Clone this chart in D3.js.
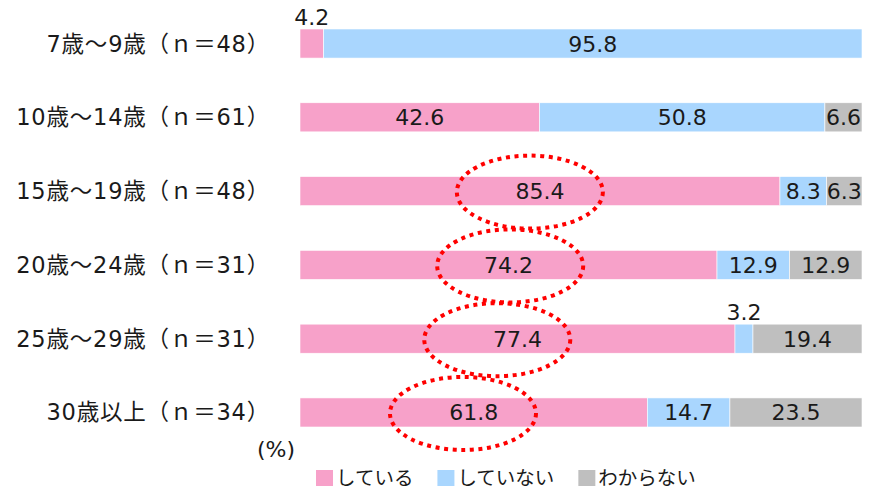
<!DOCTYPE html>
<html lang="ja">
<head>
<meta charset="utf-8">
<script src="https://d3js.org/d3.v7.min.js"></script>
<style>
  body { margin: 0; background: #fff; }
  text { font-family: "DejaVu Sans", "Noto Sans CJK JP", sans-serif; fill: #1a1a1a; }
</style>
</head>
<body>
<script>
// data
var categories = ["7歳～9歳（ｎ＝48）", "10歳～14歳（ｎ＝61）", "15歳～19歳（ｎ＝48）",
                  "20歳～24歳（ｎ＝31）", "25歳～29歳（ｎ＝31）", "30歳以上（ｎ＝34）"];
var seriesNames = ["している", "していない", "わからない"];
var doing    = [4.2, 42.6, 85.4, 74.2, 77.4, 61.8];
var notDoing = [95.8, 50.8, 8.3, 12.9, 3.2, 14.7];
var unknown  = [0, 6.6, 6.3, 12.9, 19.4, 23.5];
var colors = ["#f7a1c9", "#a9d6fe", "#bfbfbf"];
// highlighted rows (dotted ellipses), centre given as a value on the % axis
var highlightRows = [2, 3, 4, 5];
var highlightAt   = [40.9, 37.4, 35.1, 29.0];

var width = 873, height = 492;

var svg = d3.select("body").append("svg")
    .attr("width", width)
    .attr("height", height);

var x = d3.scaleLinear().domain([0, 100]).range([300, 862]);
var y = d3.scaleBand().domain(categories).range([29, 427])
    .paddingInner(0.606).paddingOuter(0);

var rows = categories.map(function(c, i) {
    return { cat: c, vals: [doing[i], notDoing[i], unknown[i]] };
});
var stack = d3.stack().keys([0, 1, 2]).value(function(d, k) { return d.vals[k]; });
var layers = stack(rows);

// bars
var layer = svg.selectAll(".layer")
    .data(layers)
    .enter().append("g")
    .attr("class", "layer")
    .attr("fill", function(d) { return colors[d.key]; });

layer.selectAll("rect")
    .data(function(d) { return d; })
    .enter().filter(function(d) { return d[1] > d[0]; })
    .append("rect")
    .attr("x", function(d) { return x(d[0]); })
    .attr("y", function(d) { return y(d.data.cat); })
    .attr("width", function(d) { return x(d[1]) - x(d[0]); })
    .attr("height", y.bandwidth())
    .attr("stroke", "#fff")
    .attr("stroke-width", 0.6);

// value labels (small slices go above the bar)
layer.selectAll("text")
    .data(function(d) { return d; })
    .enter().filter(function(d) { return d[1] > d[0]; })
    .append("text")
    .attr("x", function(d) { return x((d[0] + d[1]) / 2); })
    .attr("y", function(d) {
        var v = d[1] - d[0];
        return v < 5 ? y(d.data.cat) - 4 : y(d.data.cat) + y.bandwidth() / 2 + 8;
    })
    .attr("text-anchor", "middle")
    .style("font-size", "22px")
    .text(function(d) { return d3.format(".1f")(d[1] - d[0]); });

// category labels
svg.selectAll(".cat")
    .data(categories)
    .enter().append("text")
    .attr("class", "cat")
    .attr("x", 270)
    .attr("y", function(d) { return y(d) + y.bandwidth() / 2 + 8; })
    .attr("text-anchor", "end")
    .style("font-size", "22.5px")
    .style("letter-spacing", "0.8px")
    .text(function(d) { return d; });

// dotted red ellipses
svg.selectAll(".hl")
    .data(highlightRows)
    .enter().append("ellipse")
    .attr("cx", function(d, i) { return x(highlightAt[i]); })
    .attr("cy", function(d) { return y(categories[d]) + y.bandwidth() / 2 + 1; })
    .attr("rx", 73)
    .attr("ry", 36.5)
    .attr("fill", "none")
    .attr("stroke", "#ff0000")
    .attr("stroke-width", 4)
    .attr("stroke-dasharray", "4 4.6");

// unit
svg.append("text")
    .attr("x", 295)
    .attr("y", 457)
    .attr("text-anchor", "end")
    .style("font-size", "22px")
    .text("(%)");

// legend
var lx = 316;
seriesNames.forEach(function(name, i) {
    var g = svg.append("g").attr("transform", "translate(" + lx + ",0)");
    g.append("rect")
        .attr("x", 0).attr("y", 470)
        .attr("width", 17).attr("height", 16)
        .attr("fill", colors[i]);
    var t = g.append("text")
        .attr("x", 20).attr("y", 485)
        .style("font-size", "19.5px")
        .style("font-family", "'Noto Sans CJK JP', sans-serif")
        .text(name);
    lx += 20 + t.node().getComputedTextLength() + 24;
});
</script>
</body>
</html>
